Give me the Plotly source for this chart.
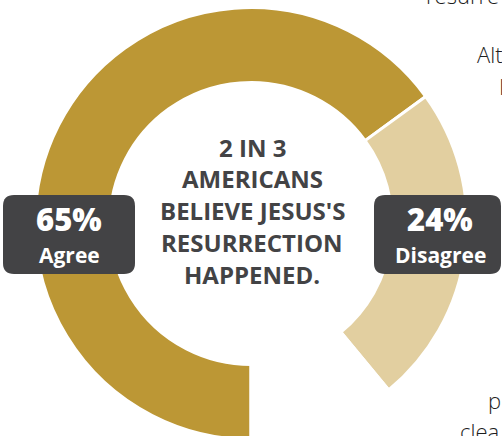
import plotly.graph_objects as go

categories = ["Agree", "Disagree", "Other"]
values = [65, 24, 11]
colors = ["#BC9735", "#E2CFA0", "#FFFFFF"]

headline_lines = ["2 IN 3", "AMERICANS", "BELIEVE JESUS'S", "RESURRECTION", "HAPPENED."]
side_fragments = ["resurre", "Alt", "I", "p", "clea"]

FONT = "Open Sans"
DARK = "#434345"

W, H = 502, 440


def px(x, y):
    """pixel (top-left origin) -> paper coords"""
    return x / W, 1 - y / H


# donut: center (251, 223.5), outer radius ~216
cx, cy, R = 251, 223.5, 216
x0, _ = px(cx - R, 0)
x1, _ = px(cx + R, 0)
_, ytop = px(0, cy - R)
_, ybot = px(0, cy + R)

fig = go.Figure(go.Pie(
    labels=categories,
    values=values,
    sort=False,
    direction="clockwise",
    rotation=180,
    hole=0.653,
    marker=dict(colors=colors, line=dict(color="#FFFFFF", width=3)),
    textinfo="none",
    hoverinfo="label+percent",
    domain=dict(x=[max(0, x0), min(1, x1)], y=[max(0, ybot), min(1, ytop)]),
    showlegend=False,
))


def rounded_rect(a0, b0, a1, b1, r):
    def p(x, y):
        u, v = px(x, y)
        return f"{u:.5f},{v:.5f}"
    return (f"M {p(a0 + r, b0)} L {p(a1 - r, b0)} Q {p(a1, b0)} {p(a1, b0 + r)} "
            f"L {p(a1, b1 - r)} Q {p(a1, b1)} {p(a1 - r, b1)} L {p(a0 + r, b1)} "
            f"Q {p(a0, b1)} {p(a0, b1 - r)} L {p(a0, b0 + r)} Q {p(a0, b0)} {p(a0 + r, b0)} Z")


shapes = [
    dict(type="path", xref="paper", yref="paper", path=rounded_rect(3, 195, 135, 274, 11),
         fillcolor=DARK, line=dict(width=0), layer="above"),
    dict(type="path", xref="paper", yref="paper", path=rounded_rect(374, 195, 501, 274, 11),
         fillcolor=DARK, line=dict(width=0), layer="above"),
]

annotations = []
line_y = [147, 178, 210, 242, 274]
for txt, y in zip(headline_lines, line_y):
    u, v = px(252, y)
    annotations.append(dict(x=u, y=v, xref="paper", yref="paper", text=txt,
                            showarrow=False,
                            font=dict(family=FONT, size=24, weight=700, color=DARK),
                            xanchor="center", yanchor="middle"))

box_labels = [(f"{values[0]}%", categories[0], 69), (f"{values[1]}%", categories[1], 440)]
for pct, lab, bx in box_labels:
    u, v = px(bx, 219)
    annotations.append(dict(x=u, y=v, xref="paper", yref="paper", text=pct,
                            showarrow=False,
                            font=dict(family=FONT, size=31, weight=800, color="#FFFFFF"),
                            xanchor="center", yanchor="middle"))
    u, v = px(bx, 255)
    annotations.append(dict(x=u, y=v, xref="paper", yref="paper", text=lab,
                            showarrow=False,
                            font=dict(family=FONT, size=21, weight=700, color="#FFFFFF"),
                            xanchor="center", yanchor="middle"))

side_pos = [(424, -5), (475, 54), (497, 86), (486, 400), (458, 431)]
for txt, (x, y) in zip(side_fragments, side_pos):
    u, v = px(x, y)
    annotations.append(dict(x=u, y=v, xref="paper", yref="paper", text=txt,
                            showarrow=False,
                            font=dict(family=FONT, size=22, weight=300, color="#1E1E1E"),
                            xanchor="left", yanchor="middle"))

fig.update_layout(
    width=W, height=H,
    margin=dict(l=0, r=0, t=0, b=0),
    paper_bgcolor="#FFFFFF",
    plot_bgcolor="#FFFFFF",
    shapes=shapes,
    annotations=annotations,
)

fig.write_html("out.html", config={"displayModeBar": False},
               post_script="document.body.style.margin='0px';")
